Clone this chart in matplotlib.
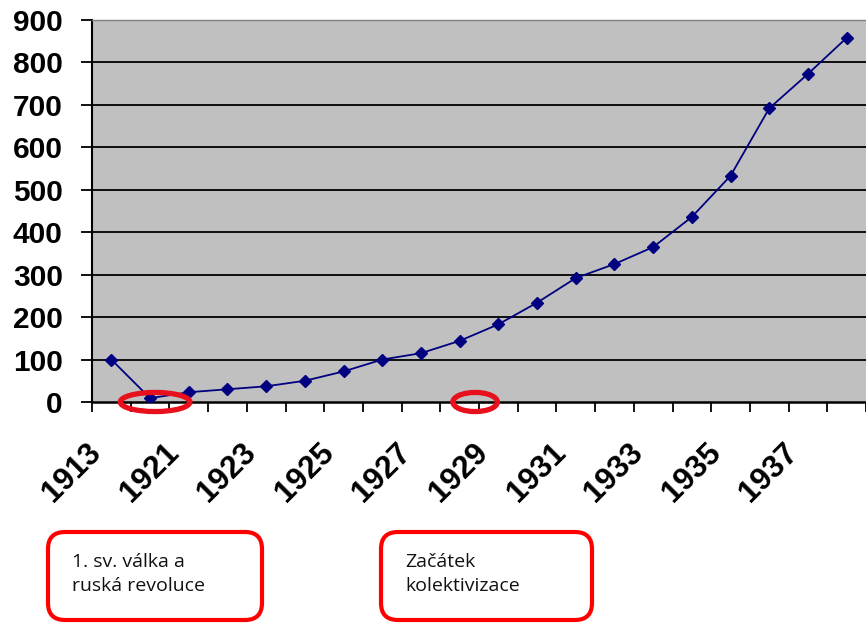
import numpy as np
import matplotlib
matplotlib.use('Agg')
import matplotlib.pyplot as plt
from matplotlib.patches import FancyBboxPatch, Ellipse
from matplotlib.transforms import ScaledTranslation

# data
years = ["1913", "1920", "1921", "1922", "1923", "1924", "1925", "1926", "1927", "1928",
         "1929", "1930", "1931", "1932", "1933", "1934", "1935", "1936", "1937", "1938"]
values = [100, 9, 23, 30, 37, 50, 72, 100, 115, 144,
          183, 234, 292, 325, 365, 436, 533, 692, 773, 858]
yticks = list(range(0, 1000, 100))
notes = ["1. sv. válka a\nruská revoluce", "Začátek\nkolektivizace"]

W, H = 866, 623
fig = plt.figure(figsize=(W / 100, H / 100), dpi=100)
ax = fig.add_axes([92 / W, 1 - 402 / H, (W - 92) / W, 382 / H])
ax.set_facecolor('#c0c0c0')

x = np.arange(len(years))
ax.plot(x, values, color='#000080', lw=1.3, marker='D', markersize=6.5, zorder=3)

ax.set_xlim(-0.5, len(years) - 0.5)
ax.set_ylim(0, 900)

# y axis
ax.set_yticks(yticks)
ax.set_yticklabels([str(v) for v in yticks], fontfamily='Liberation Sans',
                   fontweight='bold', fontsize=21.5)
ax.tick_params(axis='y', length=8, width=1.3, pad=13, color='black')
for v in yticks[1:-1]:
    ax.axhline(v, color='black', lw=1.3, zorder=1)

# x axis: tick marks at category borders, labels at centres (every second one)
ax.set_xticks(np.arange(-0.5, len(years), 1))
ax.set_xticklabels([])
ax.tick_params(axis='x', which='major', length=7.5, width=1.3, color='black')
lab_tr = ax.get_xaxis_transform() + ScaledTranslation(-0.25, -0.36, fig.dpi_scale_trans)
for i, y in enumerate(years):
    if i % 2 == 0:
        ax.text(x[i], 0, y, transform=lab_tr, rotation=45, rotation_mode='anchor',
                ha='right', va='top', fontfamily='Liberation Sans', fontweight='bold',
                fontsize=22.5, clip_on=False)

ax.spines['left'].set_linewidth(1.5)
ax.spines['bottom'].set_linewidth(1.8)
ax.spines['top'].set_color('#808080')
ax.spines['top'].set_linewidth(1.0)
ax.spines['right'].set_visible(False)

# red hand-drawn circles
red = '#e8101c'
ax.add_patch(Ellipse((1.13, 0), 1.8, 45, angle=0, fill=False, ec=red, lw=3.8,
                     clip_on=False, zorder=5))
ax.add_patch(Ellipse((9.4, 0), 1.15, 45, fill=False, ec=red, lw=3.8,
                     clip_on=False, zorder=5))

# note boxes (in inches)
boxes = [(0.48, 0.03, 2.14, 0.88), (3.81, 0.03, 2.11, 0.88)]
for (bx, by, bw, bh), txt in zip(boxes, notes):
    fig.add_artist(FancyBboxPatch((bx, by), bw, bh, boxstyle='round,pad=0,rounding_size=0.17',
                                  transform=fig.dpi_scale_trans, fc='white', ec='#ff0000', lw=3))
    fig.text(bx + 0.245, by + bh - 0.21, txt, transform=fig.dpi_scale_trans,
             ha='left', va='top', fontsize=14, fontfamily='Open Sans',
             linespacing=1.45, color='#111111')

fig.savefig('out.png', dpi=100)
